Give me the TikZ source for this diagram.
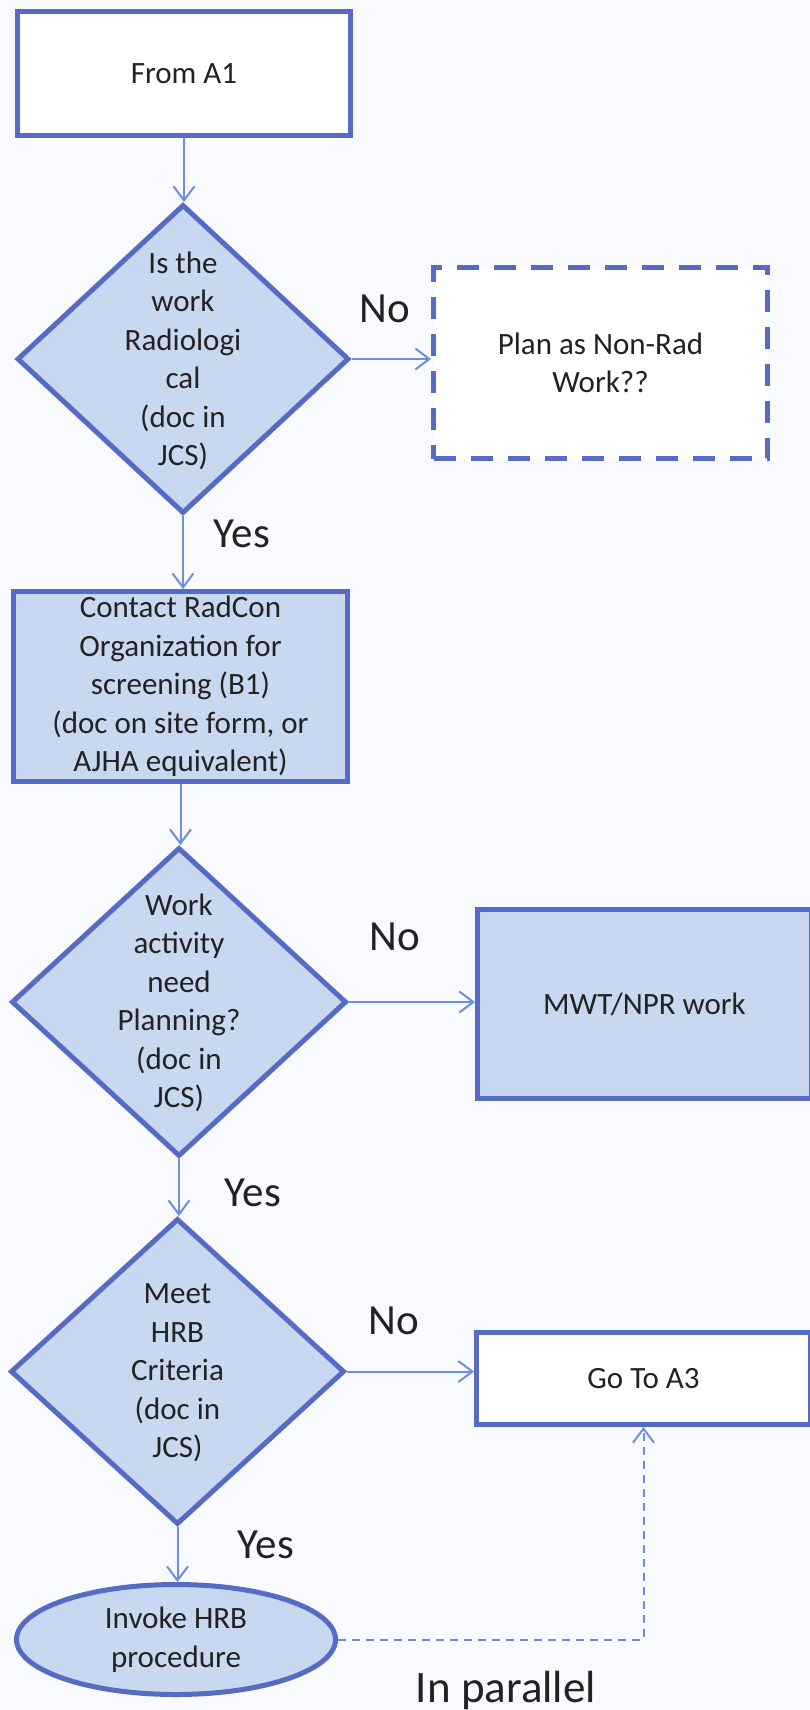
\documentclass[tikz,border=0pt]{standalone}
\usepackage{fontspec}
\setmainfont{Carlito}
\usetikzlibrary{shapes.geometric,arrows.meta}

\definecolor{edgeblue}{HTML}{566CC4}
\definecolor{fillblue}{HTML}{C8D8F1}
\definecolor{linkblue}{HTML}{6B8EE4}
\definecolor{paper}{HTML}{F8FAFD}
\definecolor{ink}{HTML}{222222}

\tikzset{
  bodytext/.style={text=ink, align=center, font=\fontsize{31}{38.5}\selectfont},
  box/.style={bodytext, draw=edgeblue, line width=5pt, rectangle, inner sep=0pt},
  process/.style={box, fill=fillblue},
  plainbox/.style={box, fill=white},
  maybebox/.style={box, fill=white, dash pattern=on 22pt off 15pt},
  decision/.style={draw=edgeblue, line width=5pt, diamond, fill=fillblue, inner sep=0pt},
  branch/.style={text=ink, font=\fontsize{43}{50}\selectfont, inner sep=0pt},
  link/.style={draw=linkblue, line width=2pt,
    -{Straight Barb[length=14pt,width=21pt,line width=2pt]}},
  parallellink/.style={link, dash pattern=on 8pt off 6pt},
}

\begin{document}
\begin{tikzpicture}[x=1pt, y=-1pt]
  % page
  \fill[paper] (0,0) rectangle (810,1710);
  \useasboundingbox (0,0) rectangle (810,1710);

  % boxes and decisions
  \node[plainbox, minimum width=333, minimum height=124] (a1) at (184,73.5) {From A1};

  \node[decision, minimum width=332, minimum height=309] (d1) at (183,359) {};
  \node[bodytext] (d1t) at (183,361) {Is the\\work\\Radiologi\\cal\\(doc in\\JCS)};

  \node[maybebox, minimum width=334, minimum height=191] (nr) at (600.5,363) {Plan as Non-Rad\\Work??};

  \node[process, minimum width=334, minimum height=190] (c1) at (180.5,686.5)
    {Contact RadCon\\Organization for\\screening (B1)\\(doc on site form, or\\AJHA equivalent)};

  \node[decision, minimum width=335, minimum height=309] (d2) at (179,1002) {};
  \node[bodytext] (d2t) at (179,1003) {Work\\activity\\need\\Planning?\\(doc in\\JCS)};

  \node[process, minimum width=334, minimum height=189] (mwt) at (644.5,1004) {MWT/NPR work};

  \node[decision, minimum width=334, minimum height=306] (d3) at (177.5,1371.5) {};
  \node[bodytext] (d3t) at (177.5,1373) {Meet\\HRB\\Criteria\\(doc in\\JCS)};

  \node[plainbox, minimum width=334, minimum height=92] (a3) at (643.5,1378.5) {Go To A3};

  \node[process, ellipse, minimum width=319, minimum height=110] (hrb) at (176,1639.5)
    {Invoke HRB\\procedure};

  % connectors
  \draw[link] (a1.south) -- (a1.south |- d1.north);
  \draw[link] (d1.east) -- (d1.east -| nr.west);
  \draw[link] (d1.south) -- (d1.south |- c1.north);
  \draw[link] (c1.south) -- (c1.south |- d2.north);
  \draw[link] (d2.east) -- (d2.east -| mwt.west);
  \draw[link] (d2.south) -- (d2.south |- d3.north);
  \draw[link] (d3.east) -- (d3.east -| a3.west);
  \draw[link] (d3.south) -- (d3.south |- hrb.north);
  \draw[parallellink] (hrb.east) -| (a3.south);

  % branch labels
  \node[branch] (no1) at (385,309) {No};
  \node[branch] (yes1) at (242,534) {Yes};
  \node[branch] (no2) at (395,937) {No};
  \node[branch] (yes2) at (253,1193) {Yes};
  \node[branch] (no3) at (394,1321) {No};
  \node[branch] (yes3) at (266,1545) {Yes};
  \node[branch, anchor=base, font=\fontsize{45}{52}\selectfont] (par) at (506,1702) {In parallel};
\end{tikzpicture}
\end{document}
